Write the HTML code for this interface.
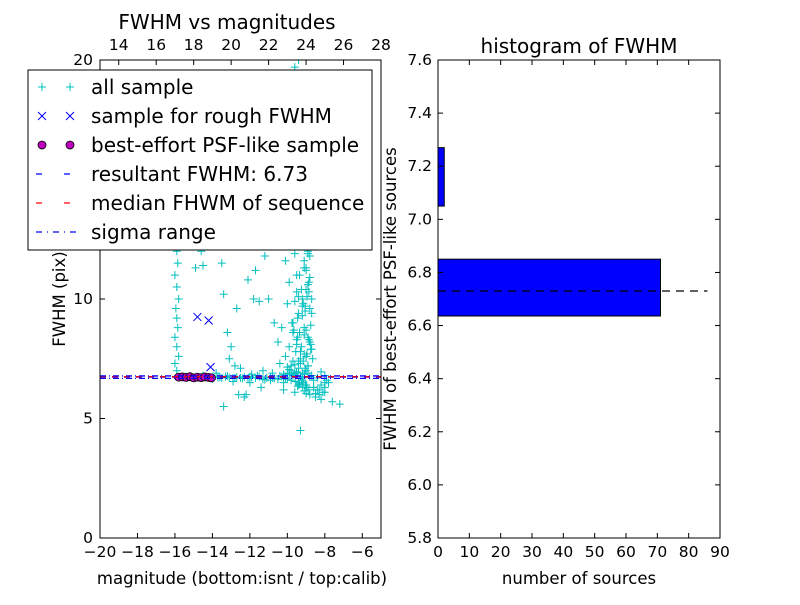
<!DOCTYPE html>
<html><head><meta charset="utf-8"><style>
body{margin:0;background:#fff;}
svg{font-family:"DejaVu Sans","Liberation Sans",sans-serif;}
</style></head><body>
<svg id="c" width="800" height="600" viewBox="0 0 800 600" xmlns="http://www.w3.org/2000/svg"></svg>
<script>
// ---- left scatter data ----
const magAll=[-15.9,-16.0,-15.8,-15.9,-16.0,-15.85,-15.9,-15.95,-15.8,-15.9,-16.0,-15.85,-15.9,-15.8,-15.9,
-14.6,-14.5,-13.5,-13.4,-13.2,-13.1,-12.8,-12.5,-12.0,-11.4,-12.1,-11.7,-11.5,-11.8,-11.0,-10.7,-10.5,-13.4,-12.6,-12.2,-9.3,-8.2,-7.6,-7.2,-8.0,-12.7,-11.2,-14.9,-13.0,
-15.4,-15.0,-14.5,-14.0,-13.6,-13.2,-12.8,-12.4,-12.0,-11.6,-11.2,-10.8,-10.4,-10.0,-9.6,-9.2,-8.8,-8.4,-8.0,-13.8,-12.9,-11.9,-10.9,-10.2,-9.8,-9.4,-8.6,-8.2,-7.8,
-10.2,-10.0,-9.8,-9.6,-9.4,-9.2,-9.0,-8.8,-8.6,-10.1,-9.9,-9.5,-9.3,-9.1,-8.9,-8.7,-10.3,-9.7,-9.2,-8.8,-10.0,-9.4,-9.0,-8.7,-9.9,-9.5,-9.1,-8.8,-10.1,-9.6,-9.2,-8.9,
-10.0,-9.6,-9.3,-9.0,-9.8,-9.4,-9.1,-8.8,-10.2,-9.7,-9.3,-8.9,-9.9,-9.5,-9.2,-9.0,-9.8,-9.4,-9.1,-10.0,-9.6,-9.3,-9.0,-9.7,-9.4,-9.2,-9.5,-9.3,-9.1,-9.6,-9.4,-9.2,-10.4,-9.0,
-9.4,-9.2,-9.0,-9.5,-9.3,-9.1,-9.6,-8.9,-9.7,-9.2,-11.3,-10.8,-12.3,
-9.05,-9.15,-8.95,-9.25,-8.85,-9.35,-8.75,-9.45,-8.65,-9.55,-9.05,-9.15,-8.95,-9.25,-8.85,-9.35,-8.75,-9.45,-9.65,-9.75,
-9.0,-9.1,-8.9,-9.2,-8.8,-9.3,-8.7,-9.4,-9.5,-9.6,-9.05,-9.15,-8.95,-9.25,-8.85,-9.35,-9.45,-9.55,-9.1,-9.0,
-9.8,-9.4,-9.0,-8.6,-8.4,-8.2,-8.0,-7.9,-8.3,-8.5,-8.7,-8.9,-9.1,-9.3,-9.5,-9.7,-9.9,-10.1,-10.3,-10.5,
-10.7,-10.9,-11.1,-11.3,-11.5,-11.7,-11.9,-12.1,-12.3,-12.5,-12.7,-12.9,-13.1,-13.3,-13.5,-13.7,-8.1,-8.3,-8.5,-8.0,
-8.9,-9.0,-8.8,-9.1,-8.7,-9.2,-8.9,-9.0,-8.8,-9.1,-8.6,-8.9,-9.0,-8.8,-9.1,-8.7,-8.95,-9.05,-8.85,-8.75,
-9.2,-9.3,-9.4,-9.5,-9.6,-9.8,-10.0,-9.7,-9.9,-10.2];
const fwhmAll=[7.0,7.3,7.6,8.0,8.4,8.8,9.2,9.6,10.0,10.5,11.0,11.5,12.0,12.5,13.5,
12.0,11.4,11.5,10.2,8.6,7.5,7.2,7.1,6.5,6.3,10.8,11.2,9.9,10.0,10.0,9.0,8.2,5.5,6.0,6.0,4.5,5.8,5.7,5.6,6.1,9.6,11.8,11.3,8.0,
6.75,6.7,6.8,6.65,6.72,6.78,6.7,6.68,6.75,6.8,6.62,6.7,6.78,6.65,6.85,6.6,6.75,6.7,6.8,6.9,6.55,6.85,6.6,6.5,7.0,6.4,6.3,6.95,6.5,
6.2,6.9,7.2,6.1,7.4,6.3,7.0,6.0,6.6,7.6,8.0,8.3,7.8,8.5,7.2,7.9,8.8,9.0,9.3,9.6,9.8,10.1,10.4,10.0,10.7,11.0,11.3,10.9,11.6,11.9,12.2,12.0,
12.5,12.8,13.1,12.7,13.4,13.7,14.0,13.5,14.3,14.6,14.9,14.2,15.2,15.5,15.8,15.0,16.1,16.4,16.7,17.0,17.3,17.6,17.2,17.9,18.2,18.5,18.8,19.1,19.4,19.7,20.0,19.0,7.3,6.4,
9.4,9.7,8.7,8.1,7.5,7.7,6.9,8.4,8.6,6.7,7.0,6.9,5.9,
7.1,7.4,7.7,8.0,8.3,8.6,8.9,9.2,7.5,7.8,9.5,9.8,10.1,10.4,10.7,11.0,8.1,8.4,8.7,9.0,
11.3,11.6,11.9,12.2,12.5,12.8,13.1,13.4,10.3,9.9,6.4,6.5,6.3,6.6,6.2,6.45,6.35,6.55,6.15,6.05,
6.6,6.5,6.4,6.3,6.2,6.4,6.5,6.6,6.0,5.9,6.8,6.9,6.85,6.75,6.9,6.8,6.85,6.7,6.75,6.65,
6.68,6.72,6.7,6.65,6.75,6.7,6.72,6.68,6.74,6.7,6.73,6.69,6.71,6.75,6.7,6.72,6.1,6.2,6.05,6.3,
7.2,7.6,8.2,8.8,9.4,10.0,10.6,11.2,11.8,12.4,13.0,13.6,14.2,14.8,15.4,16.0,16.6,9.7,10.3,7.9,
6.9,7.3,7.1,6.95,7.25,6.9,7.15,7.4,7.05,6.85];
const magRough=[-14.8,-14.2,-14.1];
const fwhmRough=[9.25,9.1,7.15];
const magBest=[-15.8,-15.6,-15.4,-15.2,-15.0,-14.8,-14.6,-14.4,-14.2,-14.05];
const fwhmBest=[6.73,6.74,6.72,6.75,6.7,6.73,6.71,6.74,6.72,6.7];
const resultFwhm=6.73, medianFwhm=6.75, sigmaLo=6.68, sigmaHi=6.78;
const xTicksBottom=[-20,-18,-16,-14,-12,-10,-8,-6];
const xTicksTop=[14,16,18,20,22,24,26,28];
const yTicksLeft=[0,5,10,20];
// ---- histogram data ----
const binLo=[6.636,7.05,7.47];
const binHi=[6.85,7.27,7.6];
const binCount=[71,2,0];
const xTicksHist=[0,10,20,30,40,50,60,70,80,90];
const yTicksHist=[5.8,6.0,6.2,6.4,6.6,6.8,7.0,7.2,7.4,7.6];

const svg=document.getElementById('c');
const NS='http://www.w3.org/2000/svg';
function el(tag,attrs,parent){const e=document.createElementNS(NS,tag);for(const k in attrs)e.setAttribute(k,attrs[k]);(parent||svg).appendChild(e);return e;}
function txt(s,attrs){const e=el('text',attrs);e.textContent=s;return e;}

const L={x0:100,x1:381,y0:538,y1:60};
const lx=m=>L.x0+(m+20)/15*(L.x1-L.x0);
const ly=v=>L.y0-v/20*(L.y0-L.y1);
const tx=m=>L.x0+(m-13)/15*(L.x1-L.x0);
const R={x0:438,x1:720,y0:538,y1:60};
const hx=n=>R.x0+n/90*(R.x1-R.x0);
const hy=v=>R.y0-(v-5.8)/1.8*(R.y0-R.y1);

const gL=el('g',{});


const clip=el('clipPath',{id:'cl'});el('rect',{x:L.x0,y:L.y1,width:L.x1-L.x0,height:L.y0-L.y1},clip);
const pts=el('g',{'clip-path':'url(#cl)'},gL);
for(let i=0;i<magAll.length;i++){
  const x=lx(magAll[i]),y=ly(fwhmAll[i]);
  const p=el('path',{d:`M${x-4},${y}H${x+4}M${x},${y-4}V${y+4}`,stroke:'#00bfbf','stroke-width':1},pts);
  
  
}
for(let i=0;i<magRough.length;i++){
  const x=lx(magRough[i]),y=ly(fwhmRough[i]);
  const p=el('path',{d:`M${x-4},${y-4}L${x+4},${y+4}M${x-4},${y+4}L${x+4},${y-4}`,stroke:'#0000ff','stroke-width':1},pts);
  
  
}
for(let i=0;i<magBest.length;i++){
  const c=el('circle',{cx:lx(magBest[i]),cy:ly(fwhmBest[i]),r:4,fill:'#bf00bf',stroke:'#000','stroke-width':0.8},pts);
  
  
}
function hline(v,color,dash,name){const l=el('line',{x1:L.x0,x2:L.x1,y1:ly(v),y2:ly(v),stroke:color,'stroke-width':1.3,'stroke-dasharray':dash},pts);}
hline(resultFwhm,'#0000ff','6 6','resultant-fwhm-line');
hline(medianFwhm,'#ff0000','6 6','median-fwhm-line');
hline(sigmaLo,'#0000ff','6 3 1 3','sigma-low-line');
hline(sigmaHi,'#0000ff','6 3 1 3','sigma-high-line');
el('rect',{x:L.x0,y:L.y1,width:L.x1-L.x0,height:L.y0-L.y1,fill:'none',stroke:'#000'});
xTicksBottom.forEach(t=>{const x=lx(t);el('line',{x1:x,x2:x,y1:L.y0,y2:L.y0-5,stroke:'#000'});const s=txt('\u2212'+Math.abs(t),{x:x,y:L.y0+19,'font-size':15.5,'text-anchor':'middle'});});
xTicksTop.forEach(t=>{const x=tx(t);el('line',{x1:x,x2:x,y1:L.y1,y2:L.y1+5,stroke:'#000'});const s=txt(String(t),{x:x,y:L.y1-10,'font-size':15.5,'text-anchor':'middle'});});
yTicksLeft.forEach(t=>{const y=ly(t);el('line',{x1:L.x0,x2:L.x0+5,y1:y,y2:y,stroke:'#000'});el('line',{x1:L.x1,x2:L.x1-5,y1:y,y2:y,stroke:'#000'});const s=txt(String(t),{x:L.x0-7,y:y+5,'font-size':15.5,'text-anchor':'end'});});
let t=txt('FWHM vs magnitudes',{x:227,y:29,'font-size':20,'text-anchor':'middle'});
t=txt('magnitude (bottom:isnt / top:calib)',{x:242,y:584,'font-size':16.5,'text-anchor':'middle'});
t=txt('FWHM (pix)',{x:0,y:0,'font-size':16.5,'text-anchor':'middle',transform:'translate(65,299) rotate(-90)'});

const lg=el('g',{});


el('rect',{x:28,y:70,width:344,height:180,fill:'#fff',stroke:'#000'},lg);
const labels=['all sample','sample for rough FWHM','best-effort PSF-like sample','resultant FWHM: 6.73','median FHWM of sequence','sigma range'];
labels.forEach((s,i)=>{
  const y=87+i*29;
  const g=el('g',{},lg);
  
  
  [42,70].forEach(x=>{
    if(i==0) el('path',{d:`M${x-4},${y}H${x+4}M${x},${y-4}V${y+4}`,stroke:'#00bfbf'},g);
    if(i==1) el('path',{d:`M${x-4},${y-4}L${x+4},${y+4}M${x-4},${y+4}L${x+4},${y-4}`,stroke:'#0000ff'},g);
    if(i==2) el('circle',{cx:x,cy:y,r:4,fill:'#bf00bf',stroke:'#000','stroke-width':0.8},g);
  });
  if(i>=3){const c=i==4?'#ff0000':'#0000ff';el('line',{x1:36,x2:76,y1:y,y2:y,stroke:c,'stroke-width':1.3,'stroke-dasharray':i==5?'6 5 1 5':'6 22'},g);}
  const tt=el('text',{x:91,y:y+7,'font-size':20},g);tt.textContent=s;
});

const gR=el('g',{});


for(let i=0;i<binCount.length;i++){
  const y1=hy(binHi[i]),y0=hy(binLo[i]);
  const r=el('rect',{x:R.x0,y:y1,width:hx(binCount[i])-R.x0,height:y0-y1,fill:'#0000ff',stroke:'#000','stroke-width':1},gR);
  
  
}
const dl=el('line',{x1:R.x0,x2:hx(86),y1:hy(resultFwhm),y2:hy(resultFwhm),stroke:'#000','stroke-width':1.2,'stroke-dasharray':'8 6'},gR);


el('rect',{x:R.x0,y:R.y1,width:R.x1-R.x0,height:R.y0-R.y1,fill:'none',stroke:'#000'});
xTicksHist.forEach(v=>{const x=hx(v);el('line',{x1:x,x2:x,y1:R.y0,y2:R.y0-5,stroke:'#000'});el('line',{x1:x,x2:x,y1:R.y1,y2:R.y1+5,stroke:'#000'});const s=txt(String(v),{x:x,y:R.y0+19,'font-size':15.5,'text-anchor':'middle'});});
yTicksHist.forEach(v=>{const y=hy(v);el('line',{x1:R.x0,x2:R.x0+5,y1:y,y2:y,stroke:'#000'});el('line',{x1:R.x1,x2:R.x1-5,y1:y,y2:y,stroke:'#000'});const s=txt(v.toFixed(1),{x:R.x0-6,y:y+5,'font-size':15.5,'text-anchor':'end'});});
t=txt('histogram of FWHM',{x:579,y:53,'font-size':20,'text-anchor':'middle'});
t=txt('number of sources',{x:579,y:584,'font-size':16.5,'text-anchor':'middle'});
t=txt('FWHM of best-effort PSF-like sources',{x:0,y:0,'font-size':16.5,'text-anchor':'middle',transform:'translate(396,299) rotate(-90)'});
</script>
</body></html>
